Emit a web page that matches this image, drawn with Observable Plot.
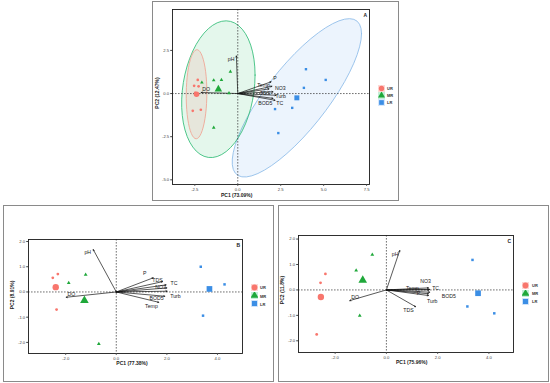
<!DOCTYPE html>
<html><head><meta charset="utf-8">
<script src="https://cdn.jsdelivr.net/npm/d3@7"></script>
<script src="https://cdn.jsdelivr.net/npm/@observablehq/plot@0.6"></script>
<style>
body{margin:0;background:#fff;font-family:"Liberation Sans",Arial,sans-serif;}
#wrap{position:relative;width:550px;height:383px;overflow:hidden;background:#fff;}
.box{position:absolute;border:1px solid #8a8a8a;box-sizing:border-box;}
.abs{position:absolute;}
.title{position:absolute;font-size:5px;font-weight:bold;color:#222;white-space:nowrap;transform:translate(-50%,-50%);}
.ytitle{transform:translate(-50%,-50%) rotate(-90deg);}
.leglab{position:absolute;font-size:4px;font-weight:bold;color:#333;transform:translateY(-50%);}
</style></head><body><div id="wrap"></div>
<script>
// ---------- data ----------
const groups = ["UR", "MR", "LR"];
const variables = ["pH", "P", "NO3", "Temp", "TDS", "Turb", "BOD5", "TC", "DO"];

// Panel A (PC1 73.09%, PC2 12.47%)
const scoreA_group = ["UR","UR","UR","UR","UR","UR","MR","MR","MR","MR","MR","MR","LR","LR","LR","LR","LR","LR"];
const scoreA_pc1 = [-2.33,-2.54,-2.28,-2.48,-2.62,-2.15, -2.09,-1.40,-0.95,-0.43,-0.51,-1.40, 3.97,5.12,3.85,3.17,2.17,2.36];
const scoreA_pc2 = [0.79,0.45,0.42,0.04,-1.00,-0.94, 0.64,0.77,0.79,1.27,0.02,-1.98, 1.41,0.79,0.33,-0.83,-0.90,-2.29];
const loadA_pc1 = [-0.08,1.94,1.99,1.82,2.05,2.23,2.05,2.17,-2.13];
const loadA_pc2 = [2.18,0.68,0.42,0.27,0.10,-0.10,-0.28,-0.39,0.06];
const labelA_pc1 = [-0.39,2.16,2.48,1.50,1.60,2.50,1.60,2.44,-1.84];
const labelA_pc2 = [1.99,0.90,0.29,0.48,0.00,-0.14,-0.57,-0.57,0.27];
const axisA = ["PC1 (73.09%)", "PC2 (12.47%)"];
const ticksA_x = [-2.5, 0, 2.5, 5, 7.5];
const ticksA_y = [-5, -2.5, 0, 2.5];

// Panel B (PC1 77.38%, PC2 8.91%)
const scoreB_group = ["UR","UR","UR","MR","MR","MR","LR","LR","LR"];
const scoreB_pc1 = [-2.31,-2.51,-2.36, -1.21,-1.88,-0.69, 3.34,4.28,3.43];
const scoreB_pc2 = [0.71,0.56,-0.70, 0.69,0.36,-2.06, 1.00,0.30,-0.94];
const loadB_pc1 = [-0.91,1.46,2.00,1.68,1.83,2.01,1.92,1.97,-1.98];
const loadB_pc2 = [1.68,0.56,0.16,-0.41,0.41,0.03,-0.17,0.28,-0.21];
const labelB_pc1 = [-1.13,1.13,1.75,1.39,1.63,2.34,1.59,2.28,-1.77];
const labelB_pc2 = [1.57,0.75,0.17,-0.58,0.47,-0.17,-0.25,0.34,-0.08];
const axisB = ["PC1 (77.38%)", "PC2 (8.91%)"];
const ticksB_x = [-2, 0, 2, 4];
const ticksB_y = [-2, -1, 0, 1, 2];

// Panel C (PC1 75.96%, PC2 11.8%)
const scoreC_group = ["UR","UR","UR","MR","MR","MR","LR","LR","LR"];
const scoreC_pc1 = [-2.38,-2.57,-2.72, -0.55,-1.18,-1.04, 3.36,3.16,4.21];
const scoreC_pc2 = [0.63,0.28,-1.75, 1.39,0.77,-1.01, 1.18,-0.65,-0.92];
const loadC_pc1 = [0.52,1.64,1.64,1.66,1.14,1.64,1.69,1.69,-1.43];
const loadC_pc2 = [1.55,-0.15,0.08,0.00,-0.66,-0.22,-0.09,0.02,-0.42];
const labelC_pc1 = [0.34,1.25,1.53,1.01,0.86,1.79,2.44,1.92,-1.22];
const labelC_pc2 = [1.39,-0.12,0.35,0.08,-0.79,-0.43,-0.24,0.08,-0.29];
const axisC = ["PC1 (75.96%)", "PC2 (11.8%)"];
const ticksC_x = [-2, 0, 2, 4];
const ticksC_y = [-2, -1, 0, 1, 2];

// ---------- styles ----------
const pointColor = {UR: "#F8766D", MR: "#1FA83A", LR: "#3B8EE5"};
const ellFill = {UR: "#F8766D", MR: "#2BC46E", LR: "#6AA8F0"};
const ellStroke = {UR: "#EFA796", MR: "#3CBF7E", LR: "#92BEEA"};
const symbolOf = {UR: "circle", MR: "triangle", LR: "square"};

function ellipse(g, xs, ys) {
  const n = xs.length, mx = d3.mean(xs), my = d3.mean(ys);
  let sxx = 0, syy = 0, sxy = 0;
  for (let i = 0; i < n; i++) { const dx = xs[i] - mx, dy = ys[i] - my; sxx += dx*dx; syy += dy*dy; sxy += dx*dy; }
  sxx /= n - 1; syy /= n - 1; sxy /= n - 1;
  const d = n - 1;
  const F = (d / 2) * (Math.pow(0.05, -2 / d) - 1); // qf(0.95, 2, n-1)
  const r = Math.sqrt(2 * F);
  const R11 = Math.sqrt(sxx), R12 = sxy / R11, R22 = Math.sqrt(Math.max(syy - R12*R12, 0));
  return d3.range(52).map(k => {
    const t = 2 * Math.PI * k / 51, c = Math.cos(t), s = Math.sin(t);
    return {g, x: mx + r * c * R11, y: my + r * (c * R12 + s * R22)};
  });
}

const wrap = document.getElementById("wrap");

function panel(cfg) {
  const pts = cfg.pc1.map((x, i) => ({x, y: cfg.pc2[i], g: cfg.group[i]}));
  const loads = variables.map((v, i) => ({v, x: cfg.l1[i], y: cfg.l2[i], lx: cfg.t1[i], ly: cfg.t2[i]}));
  const L = cfg.layout;
  const box = document.createElement("div");
  box.className = "box";
  Object.assign(box.style, {left: L.box[0] + "px", top: L.box[1] + "px", width: L.box[2] + "px", height: L.box[3] + "px"});
  wrap.appendChild(box);

  const marks = [];
  if (cfg.ellipse) {
    for (const g of ["LR", "MR", "UR"]) {
      const sub = pts.filter(p => p.g === g);
      marks.push(Plot.line(ellipse(g, sub.map(p => p.x), sub.map(p => p.y)),
        {x: "x", y: "y", curve: "linear-closed", fill: ellFill[g], fillOpacity: 0.13, stroke: ellStroke[g], strokeWidth: 0.9}));
    }
  }
  marks.push(Plot.ruleX([0], {stroke: "#333", strokeDasharray: "1.6,1.4", strokeWidth: 0.7}));
  marks.push(Plot.ruleY([0], {stroke: "#333", strokeDasharray: "1.6,1.4", strokeWidth: 0.7}));
  marks.push(Plot.arrow(loads, {x1: () => 0, y1: () => 0, x2: "x", y2: "y", stroke: "#111", strokeWidth: 0.7, headLength: 2.6, headAngle: 50}));
  marks.push(Plot.text(loads, {x: "lx", y: "ly", text: "v", fontSize: 5.2, fill: "#222"}));
  for (const g of groups) {
    const sub = pts.filter(p => p.g === g);
    marks.push(Plot.dot(sub, {x: "x", y: "y", symbol: () => symbolOf[g], fill: pointColor[g], r: cfg.rSmall}));
    const cen = [{x: d3.mean(sub, p => p.x), y: d3.mean(sub, p => p.y)}];
    marks.push(Plot.dot(cen, {x: "x", y: "y", symbol: () => symbolOf[g], fill: pointColor[g], r: cfg.rBig}));
  }
  marks.push(Plot.frame({stroke: "#1a1a1a", strokeWidth: 0.9}));
  marks.push(Plot.text([cfg.letter], {text: d => d, frameAnchor: "top-right", dx: -2.5, dy: 3.5, fontSize: 5, fontWeight: "bold", fill: "#222"}));
  marks.push(Plot.axisX({ticks: cfg.tx, tickFormat: d => d.toFixed(1), tickSize: 1.8, tickPadding: 1.5, fontSize: 4.2, label: null, fill: "#444", stroke: "#444"}));
  marks.push(Plot.axisY({ticks: cfg.ty, tickFormat: d => d.toFixed(1), tickSize: 1.8, tickPadding: 1.5, fontSize: 4.2, label: null, fill: "#444", stroke: "#444"}));

  const [bl, bt, bw, bh] = L.box;
  const [fl, ft, fr, fb] = L.frame;
  const chart = Plot.plot({
    width: bw, height: bh,
    marginLeft: fl - bl, marginRight: bl + bw - fr, marginTop: ft - bt, marginBottom: bt + bh - fb,
    x: {domain: cfg.xd}, y: {domain: cfg.yd},
    style: {fontFamily: "Liberation Sans, Arial, sans-serif", background: "transparent", color: "#444"},
    marks
  });
  chart.classList.add("abs");
  chart.style.left = bl + "px"; chart.style.top = bt + "px";
  wrap.appendChild(chart);

  const xt = document.createElement("div");
  xt.className = "title"; xt.textContent = cfg.axis[0];
  xt.style.left = L.xTitle[0] + "px"; xt.style.top = L.xTitle[1] + "px";
  wrap.appendChild(xt);
  const yt = document.createElement("div");
  yt.className = "title ytitle"; yt.textContent = cfg.axis[1];
  yt.style.left = L.yTitle[0] + "px"; yt.style.top = L.yTitle[1] + "px";
  wrap.appendChild(yt);

  // legend
  groups.forEach((g, i) => {
    const cx = L.legend[0], cy = L.legend[1] + i * L.legend[2];
    const s = 7;
    const svg = d3.create("svg").attr("width", s).attr("height", s)
      .style("position", "absolute").style("left", (cx - s/2) + "px").style("top", (cy - s/2) + "px");
    svg.append("rect").attr("width", s).attr("height", s).attr("fill", ellFill[g]).attr("fill-opacity", 0.28);
    const sym = {circle: d3.symbolCircle, triangle: d3.symbolTriangle, square: d3.symbolSquare}[symbolOf[g]];
    svg.append("path").attr("transform", `translate(${s/2},${s/2})`).attr("d", d3.symbol(sym, L.legend[4])()).attr("fill", pointColor[g]);
    wrap.appendChild(svg.node());
    const lab = document.createElement("div");
    lab.className = "leglab"; lab.textContent = g;
    lab.style.left = L.legend[3] + "px"; lab.style.top = cy + "px";
    wrap.appendChild(lab);
  });
}

panel({
  group: scoreA_group, pc1: scoreA_pc1, pc2: scoreA_pc2,
  l1: loadA_pc1, l2: loadA_pc2, t1: labelA_pc1, t2: labelA_pc2,
  axis: axisA, tx: ticksA_x, ty: ticksA_y, xd: [-3.8, 7.67], yd: [-5.27, 4.87],
  letter: "A", ellipse: true, rSmall: 1.35, rBig: 2.8,
  layout: {box: [152, 1, 247, 200], frame: [172, 9, 369, 184], xTitle: [236.7, 194.5], yTitle: [156.5, 93], legend: [381.3, 88, 7.2, 387, 22]}
});
panel({
  group: scoreB_group, pc1: scoreB_pc1, pc2: scoreB_pc2,
  l1: loadB_pc1, l2: loadB_pc2, t1: labelB_pc1, t2: labelB_pc2,
  axis: axisB, tx: ticksB_x, ty: ticksB_y, xd: [-3.47, 4.99], yd: [-2.44, 2.08],
  letter: "B", ellipse: false, rSmall: 1.4, rBig: 3.2,
  layout: {box: [3, 205, 271, 177], frame: [28, 239, 242, 353], xTitle: [132, 362.7], yTitle: [11.7, 295], legend: [254, 287.3, 8.3, 260, 26]}
});
panel({
  group: scoreC_group, pc1: scoreC_pc1, pc2: scoreC_pc2,
  l1: loadC_pc1, l2: loadC_pc2, t1: labelC_pc1, t2: labelC_pc2,
  axis: axisC, tx: ticksC_x, ty: ticksC_y, xd: [-3.43, 4.96], yd: [-2.46, 2.14],
  letter: "C", ellipse: false, rSmall: 1.4, rBig: 3.2,
  layout: {box: [278, 205, 271, 177], frame: [298, 235, 513, 352], xTitle: [411.7, 361.7], yTitle: [282.3, 290], legend: [525.7, 285.3, 8, 532, 26]}
});
</script></body></html>
